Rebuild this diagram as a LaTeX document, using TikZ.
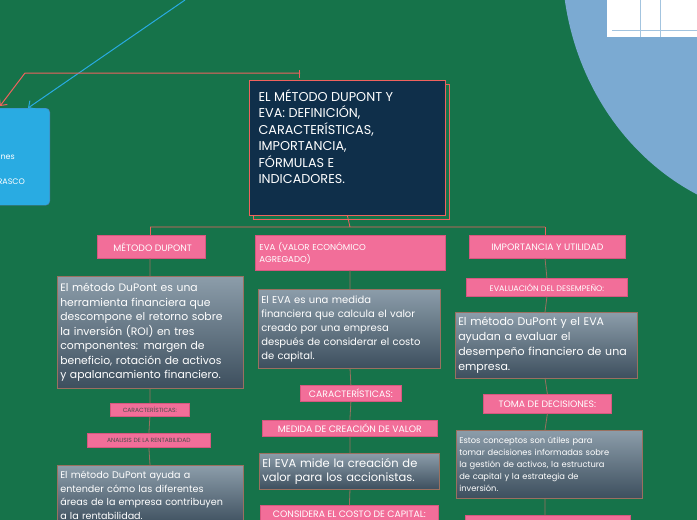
\documentclass[tikz,border=0pt]{standalone}
\usepackage{fontspec}
\setmainfont{Poppins}
\usetikzlibrary{arrows.meta}
\hyphenpenalty=10000
\exhyphenpenalty=10000
\definecolor{bg}{HTML}{16734A}
\definecolor{navy}{HTML}{0F2F4A}
\definecolor{redl}{HTML}{F0625E}
\definecolor{pinkf}{HTML}{F26E99}
\definecolor{pinkd}{HTML}{D8577F}
\definecolor{gtop}{HTML}{8C9DAA}
\definecolor{gbot}{HTML}{3D4F5E}
\definecolor{conn}{HTML}{9A7060}
\definecolor{skyb}{HTML}{29ABE2}
\definecolor{circ}{HTML}{7BAAD2}
\tikzset{
 pinkbox/.style={draw=pinkd,line width=0.8pt,fill=pinkf,text=white,inner sep=2pt,align=left,font=\fontsize{9.3}{11}\selectfont},
 pinksmall/.style={pinkbox,text=black!70,font=\fontsize{6}{7}\selectfont},
 graybox/.style={draw=conn,line width=0.6pt,top color=gtop,bottom color=gbot,text=white,align=left,inner sep=3pt,anchor=north west,font=\fontsize{10.8}{14.5}\selectfont},
 link/.style={draw=conn,line width=0.8pt},
}
\begin{document}
\begin{tikzpicture}[x=1pt,y=-1pt]
\useasboundingbox (0,0) rectangle (697,520);
\fill[bg] (0,0) rectangle (697,520);
\begin{scope}
\clip (0,0) rectangle (697,520);
\fill[circ] (800,-40) ellipse [x radius=238, y radius=260];
\fill[white] (607,0) rectangle (697,37);
\draw[circ!70!white] (612,30) -- (697,30) (640,0)--(640,37) (660,0)--(660,37);
\end{scope}
% left blue box
\node[fill=skyb,draw=skyb!70!purple,rounded corners=4pt,minimum width=70pt,minimum height=97pt,anchor=north east] (blue) at (50,108) {};
\node[text=white,anchor=west,font=\fontsize{8}{10}\selectfont] (b1) at (-3,157) {nes};
\node[text=white,anchor=west,font=\fontsize{8}{10}\selectfont] (b2) at (-6,182) {RASCO};
\coordinate (bstart) at (185,0);
\draw[skyb,line width=1pt,-{Straight Barb[length=5pt]}] (bstart) -- (blue.north -| 28,0) ;
% central
\draw[redl,line width=0.8pt] (253,84) rectangle (449,219);
\node[draw=redl,line width=0.8pt,fill=navy,minimum width=196pt,minimum height=135pt,anchor=north west,text=white] (main) at (249,80) {};
\node[text=white,anchor=north west,align=left,font=\fontsize{12.8}{16.5}\selectfont] at (255,86) {EL MÉTODO DUPONT Y\\EVA: DEFINICIÓN,\\CARACTERÍSTICAS,\\IMPORTANCIA,\\FÓRMULAS E\\INDICADORES.};
\coordinate (rt) at (300,73);
\coordinate (rc) at (25,73);
\draw[redl,line width=1pt] (299,70)--(299,78);
\draw[redl,line width=1pt,-{Straight Barb[length=5pt]}] (rt) -- (rc) -- (0,106);
% top connector
\coordinate (hub) at (350,227);
\draw[redl,line width=0.8pt] (main.south) -- (hub) (150,227) -- (545,227);
\draw[redl,line width=0.8pt] (150,227)--(150,235) (545,227)--(545,235);
% column 1
\node[pinkbox,minimum width=108pt,minimum height=23pt,anchor=north west] (m1) at (97,235) {\ MÉTODO DUPONT};
\node[graybox,text width=180pt,minimum height=112pt] (g1) at (57,276) {El método DuPont es una\\herramienta financiera que\\descompone el retorno sobre\\la inversión (ROI) en tres\\componentes: margen de\\beneficio, rotación de activos\\y apalancamiento financiero.};
\node[pinksmall,minimum width=79pt,minimum height=13pt,anchor=north west,align=center] (c1) at (110,403) {CARACTERÍSTICAS:};
\node[pinksmall,minimum width=123pt,minimum height=14pt,anchor=north west,align=center] (a1) at (87,433) {ANALISIS DE LA RENTABILIDAD};
\node[graybox,text width=180pt,minimum height=60pt,font=\fontsize{9.6}{13.5}\selectfont] (g2) at (57,465) {El método DuPont ayuda a\\entender cómo las diferentes\\áreas de la empresa contribuyen\\a la rentabilidad.};
\draw[link] (150,258) -- (150,276) (150,388)--(c1.north) (c1.south)--(a1.north) (a1.south)--(150,465);
% column 2
\node[pinkbox,minimum width=190pt,minimum height=35pt,anchor=north west,text width=182pt,font=\fontsize{8.6}{12}\selectfont] (m2) at (255,235) {EVA (VALOR ECONÓMICO\\AGREGADO)};
\node[graybox,text width=176pt,minimum height=79pt,font=\fontsize{10}{14}\selectfont] (g3) at (258,289) {El EVA es una medida\\financiera que calcula el valor\\creado por una empresa\\después de considerar el costo\\de capital.};
\node[pinkbox,minimum width=101pt,minimum height=16pt,anchor=north west,align=center] (c2) at (300,385) {CARACTERÍSTICAS:};
\node[pinkbox,minimum width=175pt,minimum height=16pt,anchor=north west,align=center] (md) at (262,420) {MEDIDA DE CREACIÓN DE VALOR};
\node[graybox,text width=174pt,minimum height=36pt,font=\fontsize{11.5}{14.5}\selectfont] (g4) at (259,453) {El EVA mide la creación de\\valor para los accionistas.};
\node[pinkbox,minimum width=178pt,minimum height=18pt,anchor=north west,align=center] (cc) at (260,505) {CONSIDERA EL COSTO DE CAPITAL:};
\draw[link] (350,270)--(350,289) (350,368)--(c2.north) (c2.south)--(md.north) (md.south)--(350,453) (350,489)--(cc.north);
% column 3
\node[pinkbox,minimum width=156pt,minimum height=23pt,anchor=north west,align=center] (m3) at (469,235) {IMPORTANCIA Y UTILIDAD};
\node[pinkbox,minimum width=161pt,minimum height=18pt,anchor=north west,align=center,font=\fontsize{8}{10}\selectfont] (ev) at (466,278) {EVALUACIÓN DEL DESEMPEÑO:};
\node[graybox,text width=176pt,minimum height=66pt,font=\fontsize{11}{15}\selectfont] (g5) at (455,312) {El método DuPont y el EVA\\ayudan a evaluar el\\desempeño financiero de una\\empresa.};
\node[pinkbox,minimum width=128pt,minimum height=19pt,anchor=north west] (td) at (483,394) {TOMA DE DECISIONES:};
\node[graybox,text width=180pt,minimum height=68pt,font=\fontsize{8.3}{11.8}\selectfont] (g6) at (456,430) {Estos conceptos son útiles para\\tomar decisiones informadas sobre\\la gestión de activos, la estructura\\de capital y la estrategia de\\inversión.};
\node[pinkbox,minimum width=165pt,minimum height=18pt,anchor=north west] (lst) at (465,515) {};
\draw[link] (545,258)--(ev.north) (ev.south)--(545,312) (545,378)--(td.north) (td.south)--(545,430) (545,498)--(545,515);
\end{tikzpicture}
\end{document}
